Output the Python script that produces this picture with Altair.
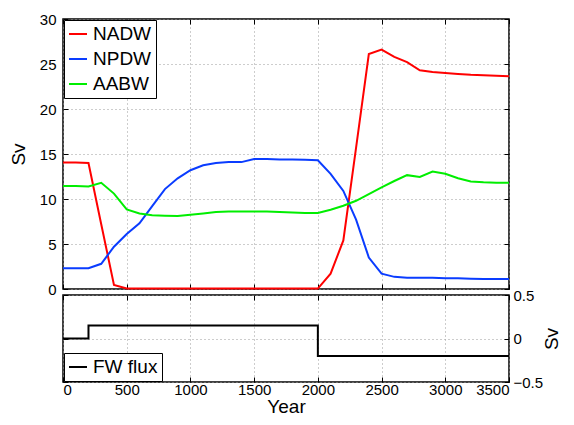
import altair as alt
import pandas as pd

years = list(range(0, 3600, 100))
nadw = [14.05, 14.05, 14.0, 7.2, 0.45, 0.05, 0.05, 0.05, 0.05, 0.05, 0.05, 0.05,
        0.05, 0.05, 0.05, 0.05, 0.05, 0.05, 0.05, 0.05, 0.05, 1.7, 5.4, 15.7,
        26.1, 26.6, 25.8, 25.2, 24.3, 24.1, 24.0, 23.9, 23.8, 23.75, 23.7, 23.65]
npdw = [2.3, 2.3, 2.3, 2.8, 4.7, 6.1, 7.3, 9.2, 11.1, 12.3, 13.2, 13.75,
        14.0, 14.1, 14.1, 14.45, 14.45, 14.4, 14.4, 14.35, 14.3, 12.8, 10.9, 7.7,
        3.5, 1.7, 1.35, 1.25, 1.25, 1.25, 1.2, 1.2, 1.15, 1.1, 1.1, 1.1]
aabw = [11.45, 11.45, 11.4, 11.8, 10.6, 8.85, 8.4, 8.2, 8.15, 8.1, 8.25, 8.4,
        8.55, 8.6, 8.6, 8.6, 8.6, 8.55, 8.5, 8.45, 8.45, 8.8, 9.25, 9.8,
        10.55, 11.3, 12.0, 12.65, 12.45, 13.05, 12.8, 12.3, 11.95, 11.85, 11.8, 11.8]
series_names = ["NADW", "NPDW", "AABW"]
series_colors = ["#ff0000", "#0a3cff", "#00ee00"]

fw_years = [0, 200, 2000, 3500]
fw_values = [0.0, 0.15, -0.2, -0.2]
fw_name = ["FW flux"]

x_ticks = [0, 500, 1000, 1500, 2000, 2500, 3000, 3500]
y_ticks_top = [0, 5, 10, 15, 20, 25, 30]
y_ticks_bot = [-0.5, 0, 0.5]

FONT = "Liberation Sans"

rows = []
for name, vals in zip(series_names, [nadw, npdw, aabw]):
    for yr, v in zip(years, vals):
        rows.append({"year": yr, "value": v, "series": name})
df = pd.DataFrame(rows)
fw_df = pd.DataFrame({"year": fw_years, "value": fw_values, "series": fw_name * len(fw_years)})

xscale = alt.Scale(domain=[0, 3500], nice=False, zero=False)
yscale_top = alt.Scale(domain=[0, 30], nice=False)
yscale_bot = alt.Scale(domain=[-0.5, 0.5], nice=False)

grid_kw = dict(grid=True, gridDash=[1, 3], gridColor="#9a9a9a", gridWidth=1)
tick_kw = dict(ticks=True, tickSize=5, tickColor="black", tickWidth=1, offset=-5, domain=False)

legend_kw = dict(title=None, symbolType="stroke", symbolSize=324, symbolStrokeWidth=2,
                 labelFontSize=19, labelFont=FONT, fillColor="white", strokeColor="black",
                 padding=4, rowPadding=5, labelOffset=5, cornerRadius=0, offset=1)

top_lines = alt.Chart(df).mark_line(strokeWidth=2).encode(
    x=alt.X("year:Q", scale=xscale,
            axis=alt.Axis(values=x_ticks, labels=False, title=None, **grid_kw, **tick_kw)),
    y=alt.Y("value:Q", scale=yscale_top,
            axis=alt.Axis(values=y_ticks_top, title="Sv", labelPadding=7, titlePadding=11,
                          **grid_kw, **tick_kw)),
    color=alt.Color("series:N", scale=alt.Scale(domain=series_names, range=series_colors),
                    legend=alt.Legend(orient="top-left", **legend_kw)),
    order=alt.Order("year:Q"),
)
top_ghost = alt.Chart(df).mark_point(opacity=0).encode(
    x=alt.X("year:Q", scale=xscale,
            axis=alt.Axis(orient="top", values=x_ticks, labels=False, title=None, grid=False, **tick_kw)),
    y=alt.Y("value:Q", scale=yscale_top,
            axis=alt.Axis(orient="right", values=y_ticks_top, labels=False, title=None, grid=False, **tick_kw)),
)
top = alt.layer(top_lines, top_ghost).resolve_axis(x="independent", y="independent").properties(
    width=446, height=270)

bot_line = alt.Chart(fw_df).mark_line(strokeWidth=2, interpolate="step-after").encode(
    x=alt.X("year:Q", scale=xscale,
            axis=alt.Axis(values=x_ticks, format="d", title="Year", labelPadding=0, titlePadding=0,
                          **grid_kw, **tick_kw)),
    y=alt.Y("value:Q", scale=yscale_bot,
            axis=alt.Axis(orient="right", values=y_ticks_bot, format="~g", title="Sv",
                          titleAngle=270, labelPadding=4, titlePadding=19,
                          **grid_kw, **tick_kw)),
    color=alt.Color("series:N", scale=alt.Scale(domain=fw_name, range=["black"]),
                    legend=alt.Legend(orient="bottom-left", **legend_kw)),
)
bot_ghost = alt.Chart(fw_df).mark_point(opacity=0).encode(
    x=alt.X("year:Q", scale=xscale,
            axis=alt.Axis(orient="top", values=x_ticks, labels=False, title=None, grid=False, **tick_kw)),
    y=alt.Y("value:Q", scale=yscale_bot,
            axis=alt.Axis(orient="left", values=y_ticks_bot, labels=False, title=None, grid=False, **tick_kw)),
)
bot = alt.layer(bot_line, bot_ghost).resolve_axis(x="independent", y="independent").properties(
    width=446, height=87)

chart = alt.vconcat(top, bot, spacing=6, bounds="flush").resolve_scale(color="independent").properties(
    padding={"left": 0, "top": 3, "right": 0, "bottom": 5}
).configure(font=FONT).configure_view(
    stroke="black", strokeWidth=1.5
).configure_axis(
    labelFont=FONT, labelFontSize=15, labelColor="black",
    titleFont=FONT, titleFontSize=19, titleFontWeight="normal", titleColor="black"
)

chart.save("out.html", embed_options={"renderer": "svg", "actions": False})
